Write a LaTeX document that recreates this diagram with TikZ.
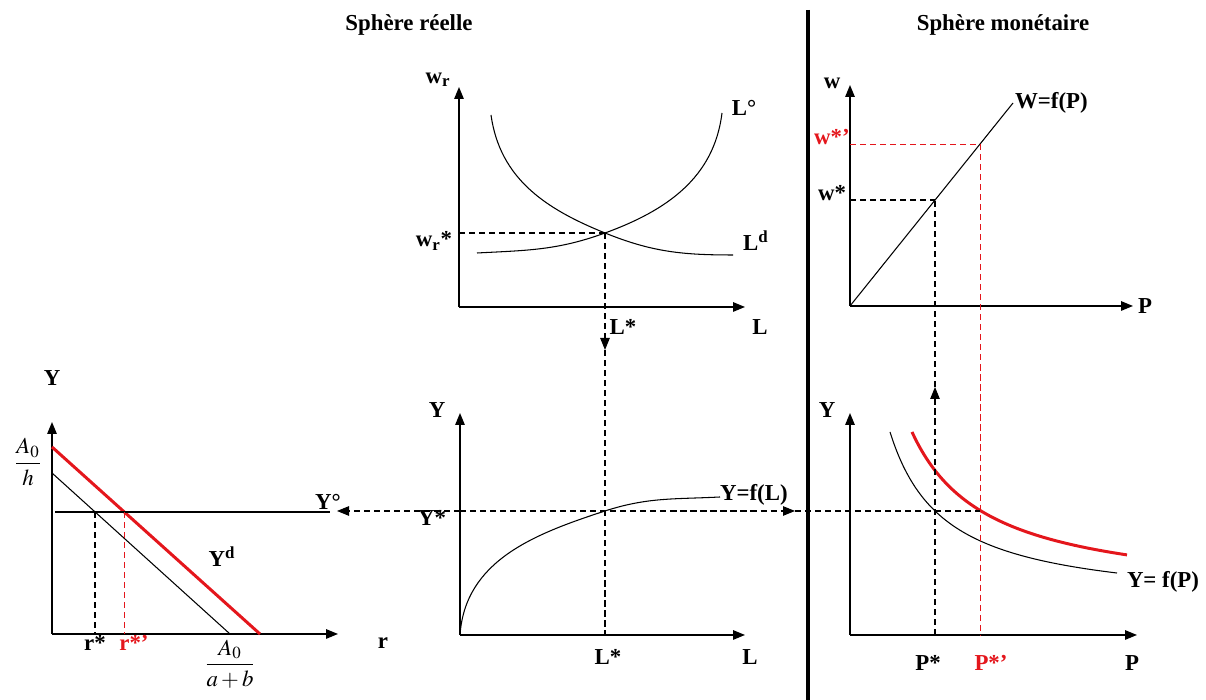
\documentclass[tikz,border=0pt]{standalone}
\usepackage{amsmath}
\usepackage{mathptmx}
\usepackage{fontspec}
\setmainfont{Liberation Serif}
\usepackage{tikz}
\usetikzlibrary{arrows.meta,positioning,calc}
\definecolor{ecored}{RGB}{228,22,28}

\begin{document}
\begin{tikzpicture}[
    x=0.2mm, y=0.2mm,
    >={Triangle[length=2.4mm,width=1.9mm]},
    axis/.style     = {line width=0.8pt, ->},
    curve/.style    = {line width=0.6pt},
    redcurve/.style = {line width=1.7pt, draw=ecored},
    guide/.style    = {line width=0.6pt, dash pattern=on 3.5pt off 2.2pt},
    redguide/.style = {guide, draw=ecored, line width=0.5pt},
    lbl/.style      = {font=\fontsize{13}{15}\selectfont\bfseries, inner sep=1pt},
    redlbl/.style   = {lbl, text=ecored},
    frac/.style     = {font=\fontsize{13}{15}\selectfont, inner sep=1pt},
]
\useasboundingbox (0,0) rectangle (1206,700);

% titles and separator
\node[lbl] (tReal) at (409,675) {Sphère réelle};
\node[lbl] (tMon)  at (1003,675) {Sphère monétaire};
\coordinate (sepTop) at (808,690);
\coordinate (sepBot) at (808,0);
\draw[line width=2.8pt] (sepTop) -- (sepBot);

% labour market (top middle)
\coordinate (oLab) at (459,393);
\coordinate (lab-y) at (459,613);
\coordinate (lab-x) at (745,393);
\coordinate (eLab) at (605,467);
\draw[axis] (oLab) -- (lab-y);
\draw[axis] (oLab) -- (lab-x);
\draw[curve] (477,447) to[out=3,in=200] (eLab) to[out=20,in=263] (722,587);
\draw[curve] (491,585) to[out=-82,in=158] (eLab) to[out=-22,in=180] (733,445);
\draw[guide] (oLab |- eLab) -- (eLab);
\node[lbl] (wr)    at (438,620) {w\textsubscript{r}};
\node[lbl] (Lo)    at (744,592) {L°};
\node[lbl] (Ld)    at (756,459) {L\textsuperscript{d}};
\node[lbl] (wrs)   at (434,459) {w\textsubscript{r}*};
\node[lbl] (Ls1)   at (623,373) {L*};
\node[lbl] (Lax1)  at (760,373) {L};

% production function (bottom middle)
\coordinate (oProd) at (460,65);
\coordinate (prod-y) at (460,287);
\coordinate (prod-x) at (745,65);
\coordinate (eProd) at (605,189);
\draw[axis] (oProd) -- (prod-y);
\draw[axis] (oProd) -- (prod-x);
\draw[curve] (oProd) to[out=86,in=198] (eProd) to[out=18,in=183] (720,203);
\node[lbl, anchor=west] (YfL) at (718,205) {Y=f(L)};
\node[lbl] (Yax2)  at (437,290) {Y};
\node[lbl] (Ys)    at (432,182) {Y*};
\node[lbl] (Ls2)   at (608,43) {L*};
\node[lbl] (Lax2)  at (750,43) {L};

% L* link
\coordinate (Larr) at (605,350);
\draw[guide,->] (eLab) -- (Larr);
\draw[guide] (Larr) -- (eProd |- oProd);

% goods market (bottom left)
\coordinate (oGood) at (52,66);
\coordinate (good-y) at (52,278);
\coordinate (good-x) at (338,66);
\coordinate (eGood) at (95,188);
\coordinate (eGoodR) at (124,188);
\draw[axis] (oGood) -- (good-y);
\draw[axis] (oGood) -- (good-x);
\draw[curve] (52,227) -- (230,66);
\draw[redcurve] (52,253) -- (260,66);
\draw[curve] (55,188) -- (330,188);
\draw[guide] (eGood) -- (eGood |- oGood);
\draw[redguide] (eGoodR) -- (eGoodR |- oGood);
\node[lbl] (Yax1)  at (52,322) {Y};
\node[frac] (A0h)  at (28,238) {$\dfrac{A_0}{h}$};
\node[lbl] (rax)   at (383,57) {r};
\node[lbl] (rs)    at (95,57) {r*};
\node[redlbl] (rss) at (134,57) {r*’};
\node[lbl] (Yd)    at (222,143) {Y\textsuperscript{d}};
\node[frac] (A0ab) at (230,36) {$\dfrac{A_0}{a+b}$};
\node[lbl] (Yo)    at (328,198) {Y°};

% wages and prices (top right)
\coordinate (oWage) at (850,394);
\coordinate (wage-y) at (850,615);
\coordinate (wage-x) at (1133,394);
\coordinate (wEnd) at (1013,597);
\coordinate (eWage) at (935,500);
\coordinate (eWageR) at (980,556);
\draw[axis] (oWage) -- (wage-y);
\draw[axis] (oWage) -- (wage-x);
\draw[curve] (oWage) -- (wEnd);
\draw[guide] (oWage |- eWage) -- (eWage);
\draw[redguide] (oWage |- eWageR) -- (eWageR);
\node[lbl] (wax)   at (832,617) {w};
\node[lbl, anchor=west] (WfP) at (1013,597) {W=f(P)};
\node[redlbl] (wss) at (832,563) {w*’};
\node[lbl] (ws)    at (832,507) {w*};
\node[lbl, anchor=west] (Pax1) at (1136,394) {P};

% aggregate supply (bottom right)
\coordinate (oSup) at (850,65);
\coordinate (sup-y) at (850,287);
\coordinate (sup-x) at (1137,65);
\coordinate (eSup) at (935,189);
\coordinate (eSupR) at (980,189);
\draw[axis] (oSup) -- (sup-y);
\draw[axis] (oSup) -- (sup-x);
\draw[curve] plot[domain=890:1117, samples=70, smooth] (\x, {93+9574/(\x-835.3)});
\draw[redcurve] plot[domain=912:1127, samples=70, smooth] (\x, {101.3+12770/(\x-835.4)});
\node[lbl] (Yax3)  at (827,290) {Y};
\node[lbl] (YfP)   at (1163,118) {Y= f(P)};
\node[lbl] (Ps)    at (928,37) {P*};
\node[redlbl] (Pss) at (991,37) {P*’};
\node[lbl] (Pax2)  at (1132,37) {P};

% P* links
\coordinate (Parr) at (935,313);
\draw[guide,->] (eSup |- oSup) -- (Parr);
\draw[guide] (Parr) -- (eWage);
\draw[redguide] (eWageR) -- (eSupR |- oSup);

% Y* link
\coordinate (YoTip) at (337,189);
\coordinate (YrTip) at (795,189);
\draw[guide,->] (prod-y |- eProd) -- (YoTip);
\draw[guide,->] (prod-y |- eProd) -- (YrTip);
\draw[guide] (YrTip) -- (eSupR);
\end{tikzpicture}
\end{document}
